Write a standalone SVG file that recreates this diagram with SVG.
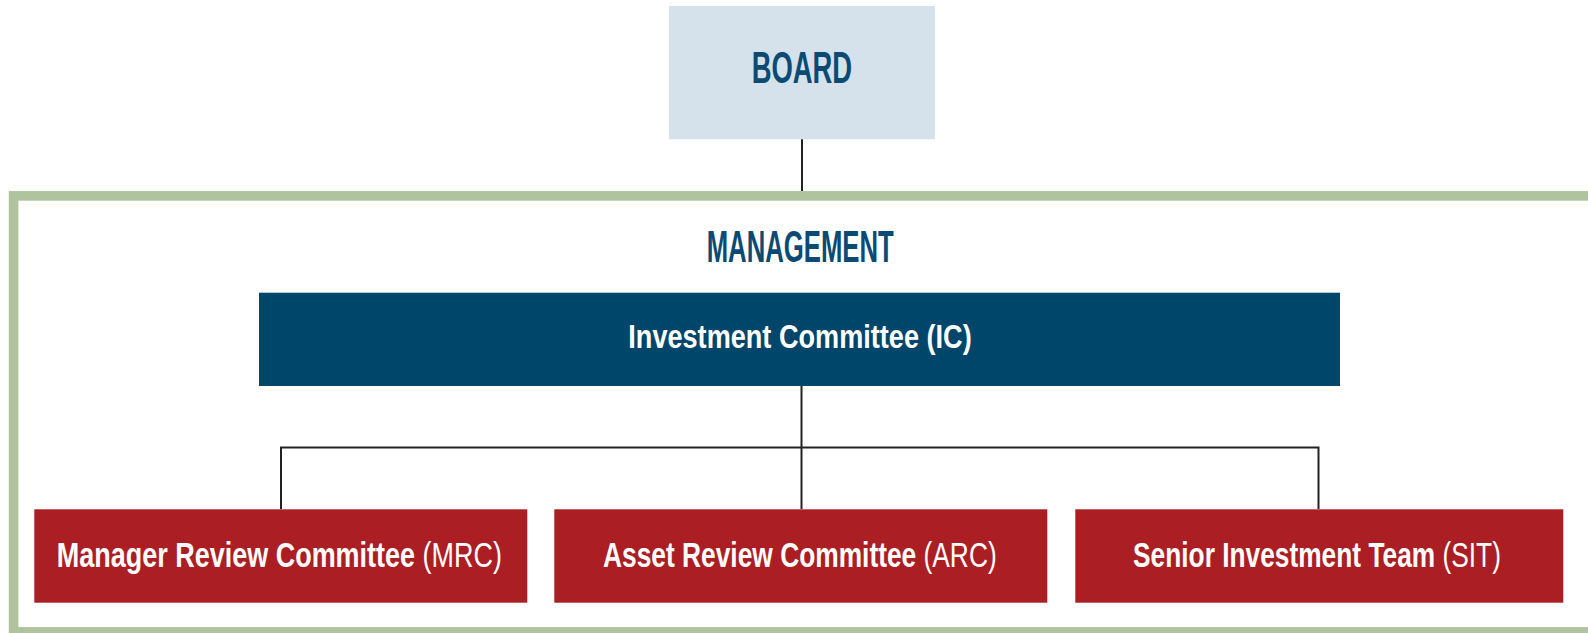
<svg xmlns="http://www.w3.org/2000/svg" width="1588" height="633" viewBox="0 0 1588 633">
  <style>
    .title { font-family: "Liberation Sans", Arial, sans-serif; font-size: 44px; font-weight: bold; fill: #0b4a72; }
    .ic { font-family: "Liberation Sans", Arial, sans-serif; font-size: 32.5px; font-weight: bold; fill: #ffffff; }
    .lbl { font-family: "Liberation Sans", Arial, sans-serif; font-size: 35px; fill: #ffffff; }
    .b { font-weight: bold; }
    .r { font-weight: normal; }
    .red { fill: #ab1e23; }
    .conn { stroke: #222222; stroke-width: 2; fill: none; }
  </style>
  <rect x="0" y="0" width="1588" height="633" fill="#ffffff"/>
  <g id="management-frame">
    <rect x="13.6" y="195.9" width="1600" height="436" fill="none" stroke="#afc49c" stroke-width="9.6"/>
    <text class="title" x="706.7" y="261.7" textLength="187" lengthAdjust="spacingAndGlyphs">MANAGEMENT</text>
  </g>
  <g id="connectors">
    <line class="conn" x1="802" y1="139" x2="802" y2="191"/>
    <line class="conn" x1="801.5" y1="386" x2="801.5" y2="509"/>
    <polyline class="conn" points="281,509 281,447.5 1318.5,447.5 1318.5,509"/>
  </g>
  <g id="board">
    <rect x="669" y="6" width="266" height="133.3" fill="#d5e1eb"/>
    <text class="title" x="751.7" y="82.7" textLength="100.3" lengthAdjust="spacingAndGlyphs">BOARD</text>
  </g>
  <g id="ic">
    <rect x="259" y="292.7" width="1081" height="93.3" fill="#00456a"/>
    <text class="ic" x="628.3" y="348.3" textLength="343.4" lengthAdjust="spacingAndGlyphs">Investment Committee (IC)</text>
  </g>
  <g id="mrc">
    <rect class="red" x="34.3" y="509.3" width="493" height="93.4"/>
    <text class="lbl" transform="translate(56.7,566.7) scale(0.771,1)"><tspan class="b">Manager Review Committee </tspan><tspan class="r">(MRC)</tspan></text>
  </g>
  <g id="arc">
    <rect class="red" x="554.3" y="509.3" width="493" height="93.4"/>
    <text class="lbl" transform="translate(603,566.7) scale(0.7526,1)"><tspan class="b">Asset Review Committee </tspan><tspan class="r">(ARC)</tspan></text>
  </g>
  <g id="sit">
    <rect class="red" x="1075.3" y="509.3" width="488" height="93.4"/>
    <text class="lbl" transform="translate(1133,566.7) scale(0.752,1)"><tspan class="b">Senior Investment Team </tspan><tspan class="r">(SIT)</tspan></text>
  </g>
</svg>
